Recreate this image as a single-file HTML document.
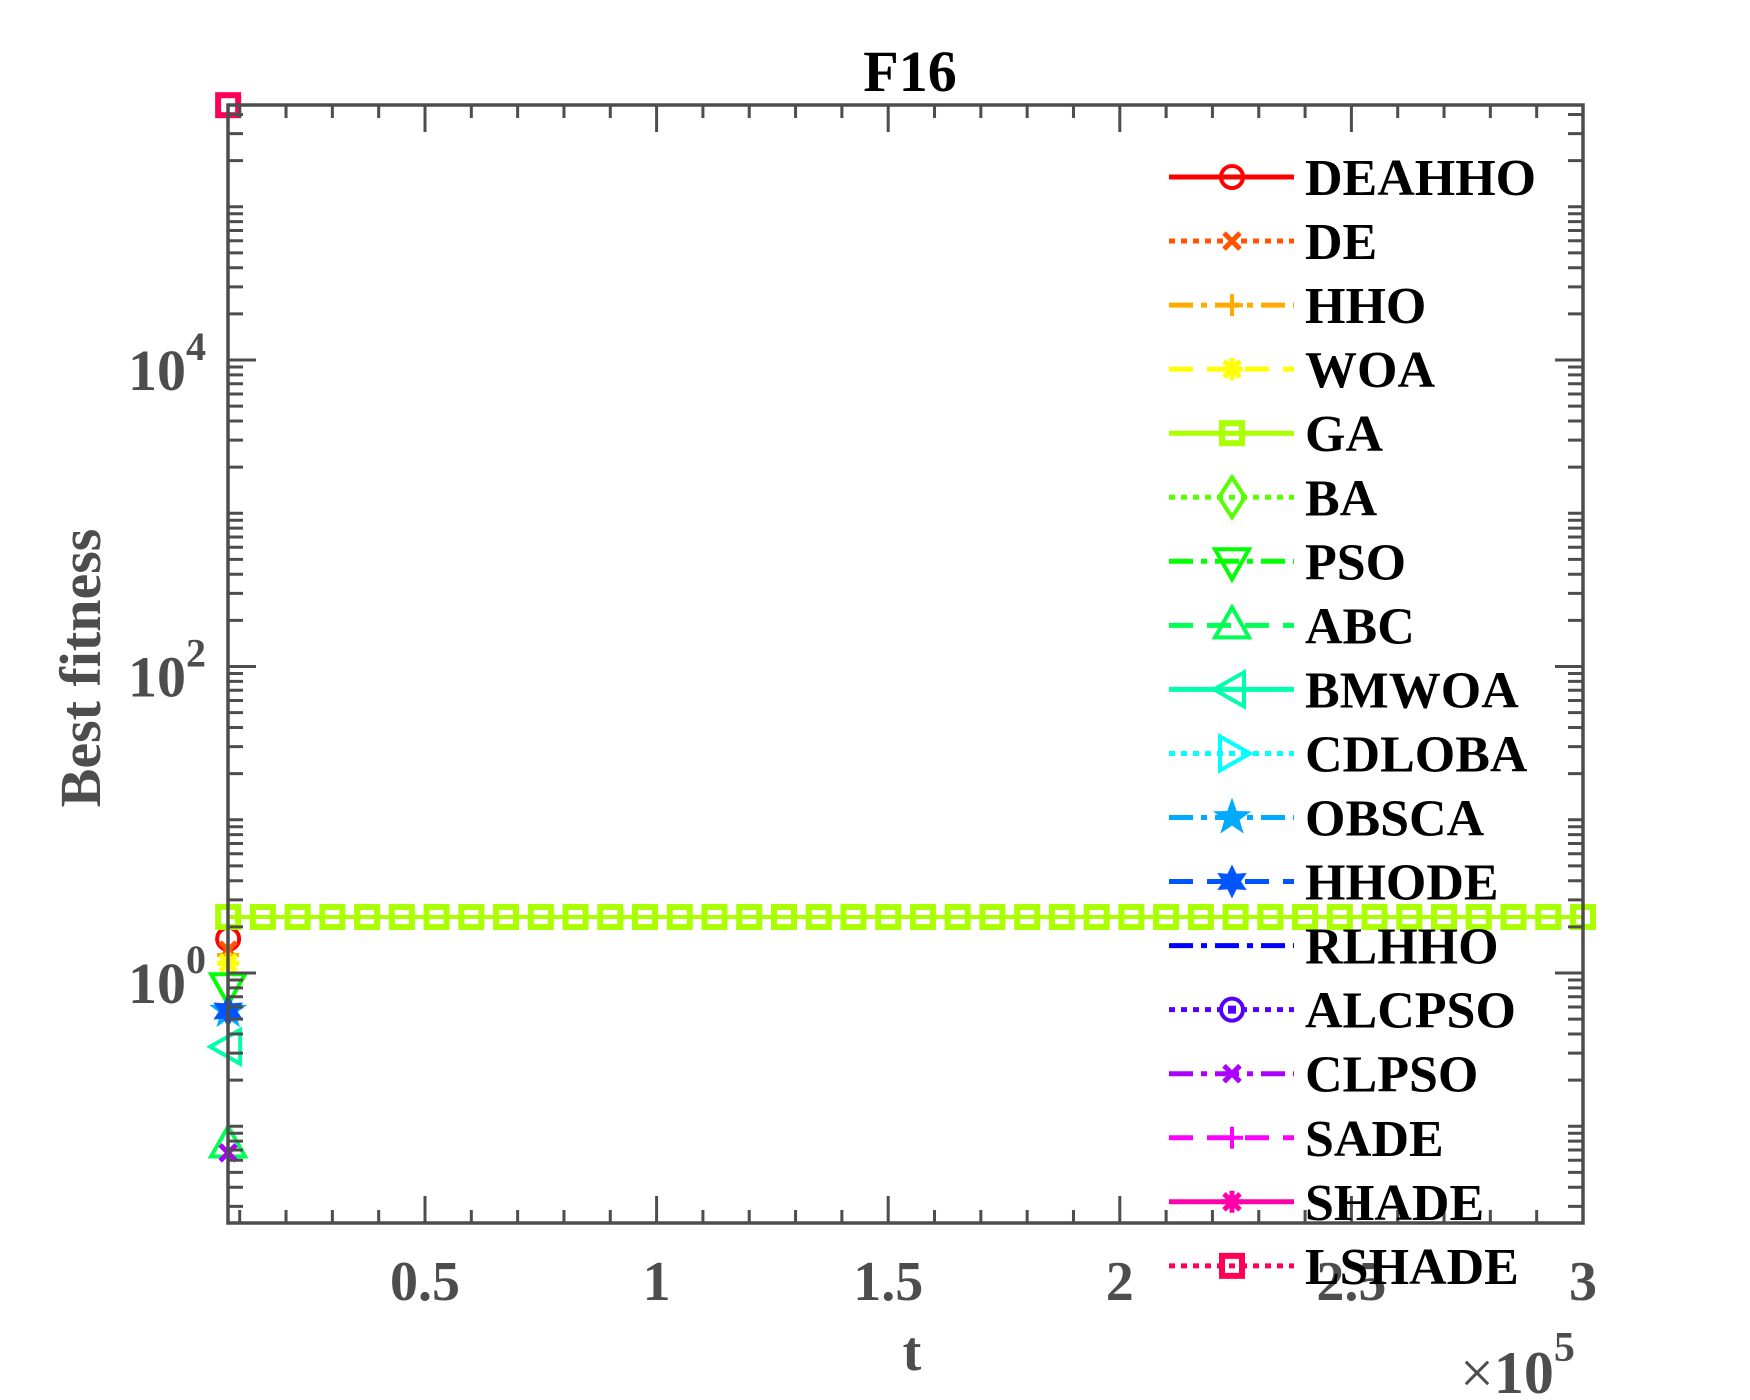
<!DOCTYPE html>
<html><head><meta charset="utf-8"><style>
html,body{margin:0;padding:0;background:#fff;}
svg{display:block;}
text{font-family:"Liberation Serif","Times New Roman",serif;font-weight:bold;}
</style></head><body>
<svg id="chart" width="1750" height="1400" viewBox="0 0 1750 1400" xmlns="http://www.w3.org/2000/svg">
<rect width="1750" height="1400" fill="#fff"/>
<defs><clipPath id="pc"><rect x="228" y="105" width="1355" height="1118"/></clipPath></defs>
<g id="lines" clip-path="url(#pc)"></g>
<g id="marks"></g>
<g id="axes"></g>
<g id="legend"></g>
<text x="910" y="91" text-anchor="middle" font-size="58" fill="#000">F16</text>
<text x="912" y="1370" text-anchor="middle" font-size="56" fill="#4d4d4d">t</text>
<text transform="translate(100,668) rotate(-90)" text-anchor="middle" font-size="58" fill="#4d4d4d">Best fitness</text>
<text x="1460" y="1393" font-size="60" fill="#4d4d4d"><tspan font-weight="normal">×</tspan>10<tspan dy="-32" font-size="42">5</tspan></text>
</svg>
<script>
const names = ["DEAHHO","DE","HHO","WOA","GA","BA","PSO","ABC","BMWOA","CDLOBA","OBSCA","HHODE","RLHHO","ALCPSO","CLPSO","SADE","SHADE","LSHADE"];
const colors = ["#ff0000","#ff5500","#ffaa00","#ffff00","#aaff00","#55ff00","#00ff00","#00ff55","#00ffaa","#00ffff","#00aaff","#0055ff","#0000ff","#5500ff","#aa00ff","#ff00ff","#ff00aa","#ff0055"];
const styles = ["solid","dot","dashdot","dash","solid","dot","dashdot","dash","solid","dot","dashdot","dash","dashdot","dot","dashdot","dash","solid","dot"];
const markers = ["o","x","+","*","s","d","v","^","<",">","p","h","none","od","x","+","*","sd"];
const firstValues = [1.67,1.41,1.31,1.16,2.32,0.001,0.82,0.076,0.33,0.001,0.565,0.565,0.001,0.001,0.067,0.001,0.001,460000];
const gaValues = [2.32,2.32,2.32,2.32,2.32,2.32,2.32,2.32,2.32,2.32,2.32,2.32,2.32,2.32,2.32,2.32,2.32,2.32,2.32,2.32,2.32,2.32,2.32,2.32,2.32,2.32,2.32,2.32,2.32,2.32,2.32,2.32,2.32,2.32,2.32,2.32,2.32,2.32,2.32,2.32];
const tStart = 7500, tStep = 7500;
const xTicks = [0.5,1,1.5,2,2.5,3];
const xTickLabels = ["0.5","1","1.5","2","2.5","3"];
const yTickExps = [0,2,4];

const L=228,R=1583,T=105,B=1223;
const xOf = t => 193.4 + (t/1e5)*463.2;
const yOf = v => 973 - Math.log10(v)*153.25;
const NS="http://www.w3.org/2000/svg";
function mk(tag, attrs, parent){const e=document.createElementNS(NS,tag);for(const k in attrs)e.setAttribute(k,attrs[k]);parent.appendChild(e);return e;}
const gAxes=document.getElementById('axes'),gLines=document.getElementById('lines'),gMarks=document.getElementById('marks'),gLeg=document.getElementById('legend');
const AX="#4d4d4d";
function dash(s){return s==="dot"?"6 6":s==="dash"?"24 14":s==="dashdot"?"24 8 6 8":"none";}
function drawMarker(type,cx,cy,color,parent,name){
  const g=mk('g',{fill:'none',stroke:color,'stroke-width':4},parent);
  
  
  const r=11;
  if(type==="o"||type==="od"){mk('circle',{cx,cy,r},g);if(type==="od")mk('rect',{x:cx-2,y:cy-2,width:4,height:4,fill:color},g);}
  else if(type==="x"){mk('path',{d:`M${cx-8} ${cy-8}L${cx+8} ${cy+8}M${cx+8} ${cy-8}L${cx-8} ${cy+8}`,'stroke-width':5},g);}
  else if(type==="+"){mk('path',{d:`M${cx-11} ${cy}H${cx+11}M${cx} ${cy-11}V${cy+11}`},g);}
  else if(type==="*"){mk('path',{d:`M${cx-11} ${cy}H${cx+11}M${cx} ${cy-11}V${cy+11}M${cx-8} ${cy-8}L${cx+8} ${cy+8}M${cx+8} ${cy-8}L${cx-8} ${cy+8}`,'stroke-width':5},g);}
  else if(type==="s"||type==="sd"){mk('rect',{x:cx-10,y:cy-10,width:20,height:20,'stroke-width':6},g);}
  else if(type==="d"){mk('path',{d:`M${cx} ${cy-20}L${cx+13} ${cy}L${cx} ${cy+20}L${cx-13} ${cy}Z`},g);}
  else if(type==="v"){mk('path',{d:`M${cx-17} ${cy-12}H${cx+17}L${cx} ${cy+18}Z`},g);}
  else if(type==="^"){mk('path',{d:`M${cx-17} ${cy+12}H${cx+17}L${cx} ${cy-18}Z`},g);}
  else if(type==="<"){mk('path',{d:`M${cx+12} ${cy-17}V${cy+17}L${cx-18} ${cy}Z`},g);}
  else if(type===">"){mk('path',{d:`M${cx-12} ${cy-17}V${cy+17}L${cx+18} ${cy}Z`},g);}
  else if(type==="p"){let d="";for(let i=0;i<10;i++){const a=-Math.PI/2+i*Math.PI/5,rr=i%2?8:20;d+=(i?"L":"M")+(cx+rr*Math.cos(a))+" "+(cy+rr*Math.sin(a));}mk('path',{d:d+"Z",fill:color,stroke:'none'},g);}
  else if(type==="h"){let d="";for(let i=0;i<12;i++){const a=-Math.PI/2+i*Math.PI/6,rr=i%2?9:17;d+=(i?"L":"M")+(cx+rr*Math.cos(a))+" "+(cy+rr*Math.sin(a));}mk('path',{d:d+"Z",fill:color,stroke:'none'},g);}
}
names.forEach((n,i)=>{
  const vals = n==="GA"?gaValues:[firstValues[i]];
  const pts = vals.map((v,k)=>[xOf(tStart+k*tStep),yOf(v)]);
  if(pts.length>1){
    const p=mk('polyline',{points:pts.map(p=>p.join(',')).join(' '),fill:'none',stroke:colors[i],'stroke-width':4,'stroke-dasharray':dash(styles[i])},gLines);
    
    
  }
  if(markers[i]!=="none") pts.forEach(p=>{ if(p[1]>=T-1&&p[1]<=B+1) drawMarker(markers[i],p[0],p[1],colors[i],gMarks,'marker-'+n.toLowerCase()); });
});
const box=mk('rect',{x:L,y:T,width:R-L,height:B-T,fill:'none',stroke:AX,'stroke-width':3.5},gAxes);


for(let k=1;k<=30;k++){const x=xOf(k*1e4);const len=k%5===0?27:13;
  mk('path',{d:`M${x} ${B}V${B-len}M${x} ${T}V${T+len}`,stroke:AX,'stroke-width':3},gAxes);}
xTicks.forEach((v,i)=>{const t=mk('text',{x:xOf(v*1e5),y:1300,'text-anchor':'middle','font-size':56,fill:AX},gAxes);t.textContent=xTickLabels[i];
  
  });
for(let e=-2;e<=5;e++){for(let m=1;m<=9;m++){const v=m*Math.pow(10,e);const y=yOf(v);if(y<T-0.5||y>B+0.5)continue;
  const len=(m===1&&yTickExps.includes(e))?28:15;
  mk('path',{d:`M${L} ${y}H${L+len}M${R} ${y}H${R-len}`,stroke:AX,'stroke-width':3},gAxes);}}
yTickExps.forEach(e=>{const t=mk('text',{x:206,y:yOf(Math.pow(10,e))+30,'text-anchor':'end','font-size':58,fill:AX},gAxes);
  
  
  const a=document.createTextNode('10'); t.appendChild(a);
  const s=mk('tspan',{dy:-30,'font-size':40},t); s.textContent=String(e);});
names.forEach((n,i)=>{
  const y=177+i*64.05;
  const row=mk('g',{},gLeg);
  
  
  mk('line',{x1:1169,y1:y,x2:1294,y2:y,stroke:colors[i],'stroke-width':5,'stroke-dasharray':dash(styles[i])},row);
  if(markers[i]!=="none") drawMarker(markers[i],1232,y,colors[i],row,'legend-marker');
  const t=mk('text',{x:1305,y:y+18,'font-size':52,fill:'#000'},row);
  t.textContent=n;
});
</script>
</body></html>
